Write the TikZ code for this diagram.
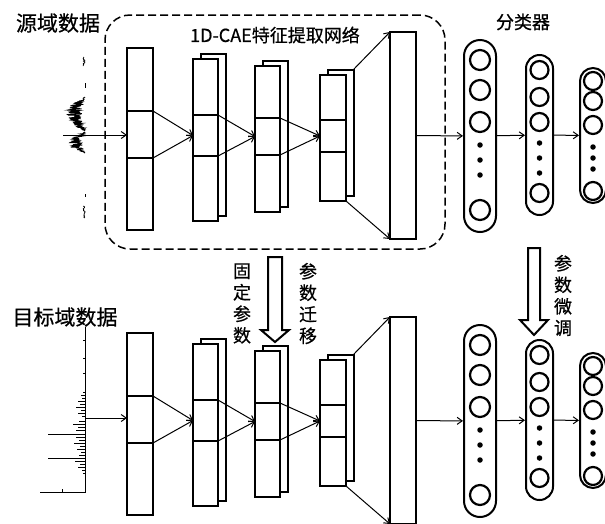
\documentclass[tikz,border=0pt]{standalone}
\usepackage{fontspec}
\setmainfont{Noto Sans CJK SC}[FakeBold=0.6]
\usetikzlibrary{arrows.meta,positioning}

\begin{document}
\begin{tikzpicture}[x=1pt,y=-1pt,
cell/.style={draw,line width=2pt,fill=white,inner sep=0pt,outer sep=0pt},
capsule/.style={draw,line width=2pt,inner sep=0pt},
unit/.style={circle,draw,line width=2.2pt,inner sep=0pt},
dot/.style={circle,fill,inner sep=0pt,minimum size=5.5pt},
arr/.style={-{Straight Barb[length=5pt,width=7pt]},line width=1pt},
wave/.style={line width=0.8pt},
hollow/.style={draw,line width=2pt,fill=white,line join=miter},
big/.style={font=\fontsize{21}{24}\selectfont,inner sep=0pt},
title/.style={font=\fontsize{18}{20}\selectfont,inner sep=0pt},
vtext/.style={font=\fontsize{18}{21.5}\selectfont,align=center,inner sep=0pt}]
\useasboundingbox (0,0) rectangle (605,523);

% encoder frame (source side only)
\node[draw,dash pattern=on 8pt off 4pt,line width=1.5pt,rounded corners=25pt,
  minimum width=340pt,minimum height=234pt] (cae) at (275,132) {};
\node[title] (caeT) at (275,35) {1D-CAE特征提取网络};
\node[title] (cls) at (523,22) {分类器};
\node[big] (src) at (58,23) {源域数据};
\node[big] (tgt) at (65,317) {目标域数据};

% both networks, the target one 285pt lower
\foreach \p/\dy in {s/0,t/285}{
\begin{scope}[yshift=-\dy pt]
% conv layer 1
\node[cell,minimum width=26pt,minimum height=47pt] (\p-l1m) at (140,134.5) {};
\node[cell,minimum width=26pt,minimum height=63pt,above=0pt of \p-l1m] (\p-l1t) {};
\node[cell,minimum width=26pt,minimum height=72pt,below=0pt of \p-l1m] (\p-l1b) {};
% conv layer 2
\node[cell,minimum width=25pt,minimum height=162pt] (\p-l2k) at (213.5,135) {};
\node[cell,minimum width=25pt,minimum height=41pt] (\p-l2m) at (205.5,135.5) {};
\node[cell,minimum width=25pt,minimum height=56pt,above=0pt of \p-l2m] (\p-l2t) {};
\node[cell,minimum width=25pt,minimum height=65pt,below=0pt of \p-l2m] (\p-l2b) {};
% conv layer 3
\node[cell,minimum width=25pt,minimum height=146pt] (\p-l3k) at (275.5,134) {};
\node[cell,minimum width=25pt,minimum height=37pt] (\p-l3m) at (267.5,136.5) {};
\node[cell,minimum width=25pt,minimum height=52pt,above=0pt of \p-l3m] (\p-l3t) {};
\node[cell,minimum width=25pt,minimum height=57pt,below=0pt of \p-l3m] (\p-l3b) {};
% conv layer 4
\node[cell,minimum width=26pt,minimum height=126pt] (\p-l4k) at (340.5,132.5) {};
\node[cell,minimum width=26pt,minimum height=32pt] (\p-l4m) at (333,136) {};
\node[cell,minimum width=26pt,minimum height=45pt,above=0pt of \p-l4m] (\p-l4t) {};
\node[cell,minimum width=26pt,minimum height=49pt,below=0pt of \p-l4m] (\p-l4b) {};
% flatten
\node[cell,minimum width=26pt,minimum height=207pt] (\p-l5) at (403,135.5) {};
% classifier
\node[capsule,rounded corners=16pt,minimum width=32pt,minimum height=192pt] (\p-c1) at (480,136) {};
\foreach \k/\y in {1/60,2/90,3/122,4/210}
  \node[unit,minimum size=20pt] (\p-c1u\k) at (480,\y) {};
\foreach \y in {145,160,175}
  \node[dot] (\p-c1d\y) at (480,\y) {};
\node[capsule,rounded corners=13.5pt,minimum width=27pt,minimum height=160pt] (\p-c2) at (539.5,135) {};
\foreach \k/\y in {1/70,2/97,3/122,4/193}
  \node[unit,minimum size=18pt] (\p-c2u\k) at (539.5,\y) {};
\foreach \y in {143,158,173}
  \node[dot] (\p-c2d\y) at (539.5,\y) {};
\node[capsule,rounded corners=13pt,minimum width=26pt,minimum height=135pt] (\p-c3) at (593,135.5) {};
\foreach \k/\y in {1/81,2/101,3/125,4/191}
  \node[unit,minimum size=18pt] (\p-c3u\k) at (593,\y) {};
\foreach \y in {147,158,169}
  \node[dot] (\p-c3d\y) at (593,\y) {};
% connections
\draw[arr] (\p-l1m.north east) -- (\p-l2m.west);
\draw[arr] (\p-l1m.south east) -- (\p-l2m.west);
\draw[arr] (\p-l2m.north east) -- (\p-l3m.west);
\draw[arr] (\p-l2m.south east) -- (\p-l3m.west);
\draw[arr] (\p-l3m.north east) -- (\p-l4m.west);
\draw[arr] (\p-l3m.south east) -- (\p-l4m.west);
\draw[arr] (\p-l4k.north east) -- (\p-l5.north west);
\draw[arr] (\p-l4b.south east) -- (\p-l5.south west);
\draw[arr] (\p-l5) -- (\p-c1);
\draw[arr] (\p-c1) -- (\p-c2);
\draw[arr] (\p-c2) -- (\p-c3);
\end{scope}}

% source signal
\pgfmathsetseed{7}
\draw[wave] plot[domain=97:131,samples=110,variable=\t] ({85-19*sin((\t-97)*180/34)*(0.15+0.85*rnd)},\t);
\draw[wave] plot[domain=132:153,samples=70,variable=\t] ({85-16*sin((\t-132)*180/21)*(0.15+0.85*rnd)},\t);
\draw[wave] plot[domain=57:66,samples=12,variable=\t] ({85-2*rnd},\t);
\draw[wave] (85,83) -- (85,88) (85,194) -- (85,197);
\draw[wave] plot[domain=206:218,samples=14,variable=\t] ({85-2*rnd},\t);
\coordinate (sIn) at (63,135);
\draw[arr] (sIn) -- (sIn -| s-l1m.west);

% target signal
\draw[wave] (85,327) -- (85,492) -- (40,492) (62,492) -- (62,489);
\foreach \y in {340,358,373} \draw[wave] (85,\y) -- ++(-2,0);
\foreach \y/\l in {392/2,395/4,398/3,401/7,404/5,407/9,410/4,413/7,416/3,421/6,
  424/12,427/7,430/9,434/37,437/9,440/6,443/11,446/5,449/8,452/4,455/6,458/37,
  461/10,464/5,467/7,470/3,473/2}
  \draw[wave] (85,\y) -- ++(-\l,0);
\coordinate (tIn) at (85,418);
\draw[arr] (tIn) -- (tIn -| t-l1m.west);

% transfer arrows and labels
\draw[hollow] (268,257) -- (268,330) -- (261,330) -- (275,342) -- (289,330)
  -- (282,330) -- (282,257) -- cycle;
\draw[hollow] (528,248) -- (528,320) -- (520,320) -- (534,335) -- (548,320)
  -- (540,320) -- (540,248) -- cycle;
\node[vtext] (fix) at (242,303.5) {固\\定\\参\\数};
\node[vtext] (move) at (308,303.5) {参\\数\\迁\\移};
\node[vtext] (tune) at (563,295.5) {参\\数\\微\\调};
\end{tikzpicture}
\end{document}
